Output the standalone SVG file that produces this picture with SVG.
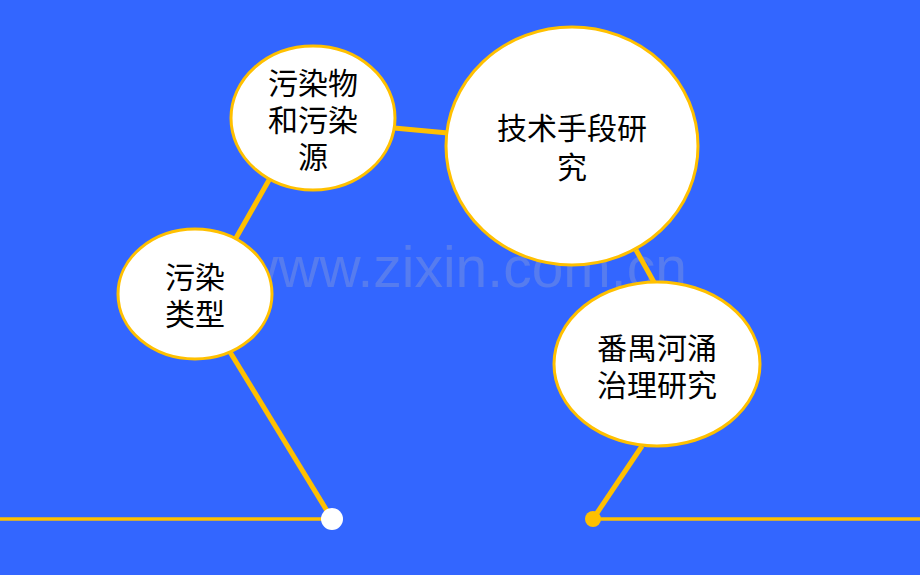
<svg xmlns="http://www.w3.org/2000/svg" width="920" height="575" viewBox="0 0 920 575">
<style>
.node{fill:#FFFFFF;stroke:#FFC000;stroke-width:3}
.lbl{font-family:"Noto Sans CJK SC","Liberation Sans",sans-serif;font-size:30px;fill:#000000;text-anchor:middle}
.con{stroke:#FFC000;stroke-width:5;fill:none}
.base{stroke:#FFC000;stroke-width:3.5;fill:none}
</style>
<rect x="0" y="0" width="920" height="575" fill="#3366FF"/>
<text x="462" y="287" font-family="Liberation Sans, Arial, sans-serif" font-size="57" fill="#BEBEBE" fill-opacity="0.25" text-anchor="middle">www.zixin.com.cn</text>
<g id="connectors">
<line class="base" x1="0" y1="519" x2="332" y2="519"/>
<line class="base" x1="593" y1="519" x2="920" y2="519"/>
<line class="con" x1="332" y1="519" x2="230" y2="352"/>
<line class="con" x1="236" y1="238" x2="269" y2="180"/>
<line class="con" x1="394" y1="128" x2="448" y2="133"/>
<line class="con" x1="636" y1="250" x2="655" y2="284"/>
<line class="con" x1="642" y1="446" x2="593" y2="519"/>
<circle cx="332" cy="519" r="11" fill="#FFFFFF"/>
<circle cx="593" cy="519" r="8" fill="#FFC000"/>
</g>
<g id="node-wuranleixing">
<ellipse class="node" cx="195" cy="294" rx="77" ry="65"/>
<text class="lbl"><tspan x="195" y="288">污染</tspan><tspan x="195" y="325">类型</tspan></text>
</g>
<g id="node-wuranwu">
<ellipse class="node" cx="313" cy="118" rx="82" ry="72"/>
<text class="lbl"><tspan x="313" y="94">污染物</tspan><tspan x="313" y="131">和污染</tspan><tspan x="313" y="168">源</tspan></text>
</g>
<g id="node-jishu">
<ellipse class="node" cx="572" cy="146" rx="126" ry="119"/>
<text class="lbl"><tspan x="572" y="139">技术手段研</tspan><tspan x="572" y="178">究</tspan></text>
</g>
<g id="node-panyu">
<ellipse class="node" cx="657" cy="364" rx="103" ry="82"/>
<text class="lbl"><tspan x="657" y="359">番禺河涌</tspan><tspan x="657" y="396">治理研究</tspan></text>
</g>
</svg>
